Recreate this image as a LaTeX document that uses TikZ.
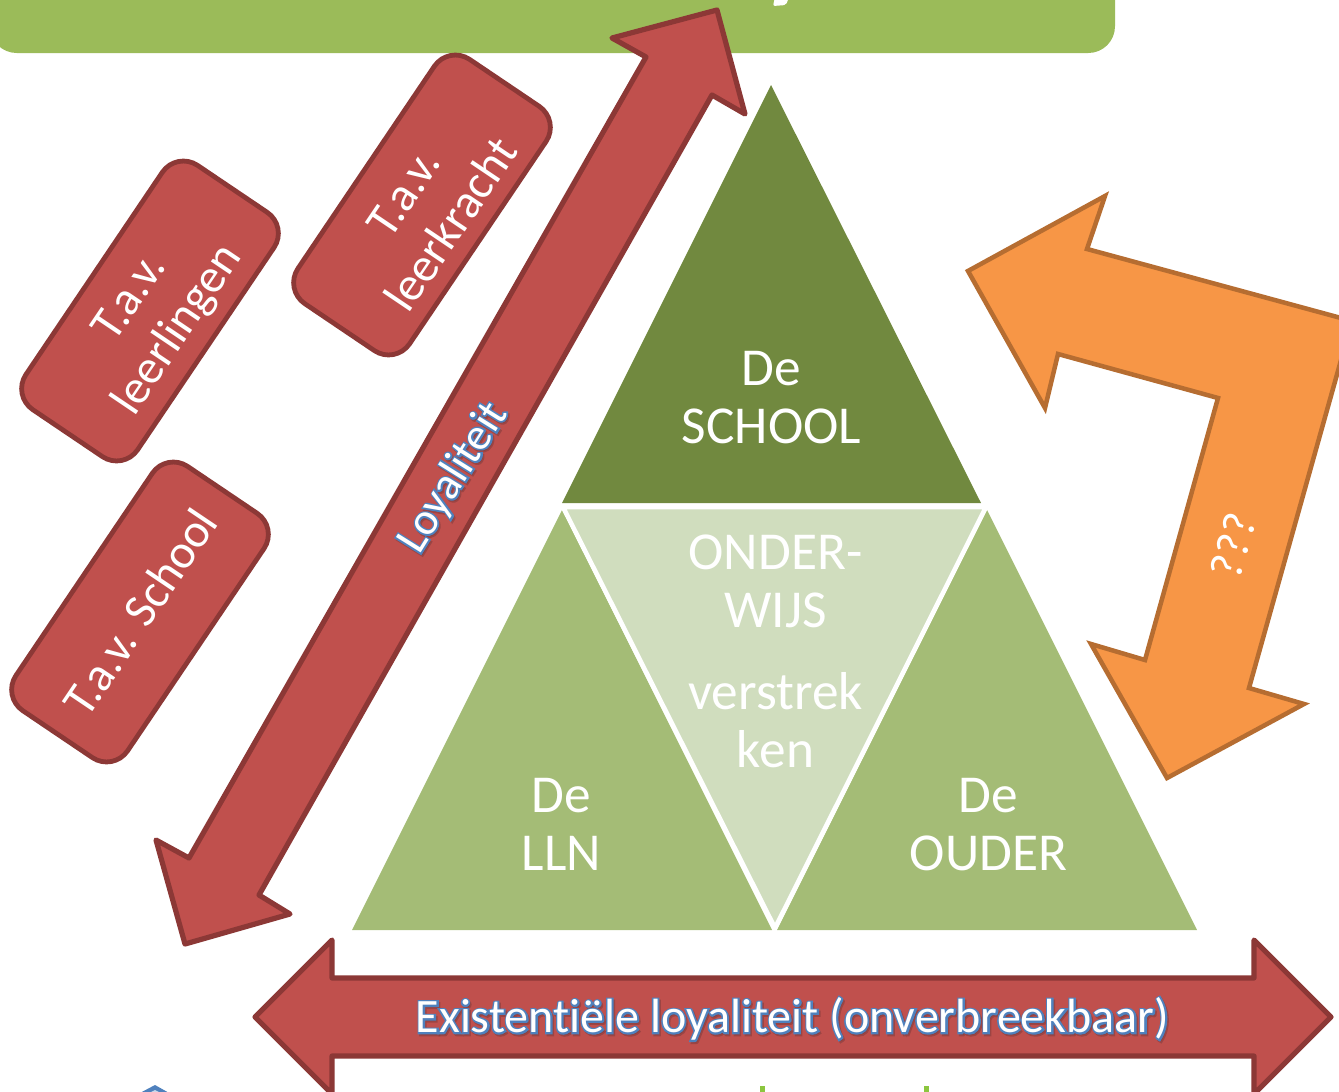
\documentclass[tikz,border=0pt]{standalone}
\usepackage{fontspec}
\setmainfont[Ligatures=NoCommon]{Carlito}
\newfontfamily\halofont[FakeBold=7,Ligatures=NoCommon]{Carlito}
\definecolor{redfill}{HTML}{C0504D}
\definecolor{redline}{HTML}{8C3836}
\definecolor{orfill}{HTML}{F79646}
\definecolor{orline}{HTML}{B66D31}
\definecolor{banner}{HTML}{9BBB59}
\definecolor{dkgreen}{HTML}{71893F}
\definecolor{mdgreen}{HTML}{A4BC76}
\definecolor{ltgreen}{HTML}{D0DDBE}
\definecolor{halo}{HTML}{4F81BD}
\definecolor{haloshadow}{HTML}{7A3A3A}
\definecolor{stub}{HTML}{8CC63F}
\newcommand{\firstline}{\rule{0pt}{33pt}}
\tikzset{
  redshape/.style={draw=redline,fill=redfill,line width=3.9pt,line join=round},
  orshape/.style={draw=orline,fill=orfill,line width=3.4pt,line join=miter},
  tavbox/.style={draw=redline,fill=redfill,line width=3.6pt,rounded corners=19pt,
    minimum width=221pt,minimum height=101pt,rotate=56,text=white,align=center,
    inner sep=0pt,font=\fontsize{36}{43}\selectfont},
  tritext/.style={text=white,align=center,inner sep=0pt,font=\fontsize{40}{43.5}\selectfont},
}
\begin{document}
\begin{tikzpicture}[x=0.75pt,y=-0.75pt]
\useasboundingbox (0,0) rectangle (1339,1092);
\clip (0,0) rectangle (1339,1092);
% banner
\fill[banner,rounded corners=20pt] (-10,-60) rectangle (1115,53);
\fill[white,rounded corners=1.5pt] (773,6) -- (786,5) -- (789,-3) -- (775,-3) -- cycle;
% triangles
\fill[dkgreen] (771,85) -- (981,503) -- (562,503) -- cycle;
\fill[mdgreen] (562,510) -- (772,930) -- (352,930) -- cycle;
\fill[mdgreen] (987,510) -- (1197,930) -- (777,930) -- cycle;
\draw[white,line width=3.4pt,fill=ltgreen,line join=miter] (563,507) -- (986,507) -- (775,928) -- cycle;
\node[tritext] (school) at (771.5,398) {De\\SCHOOL};
\node[tritext] (lln) at (561.5,824.5) {De\\LLN};
\node[tritext] (ouder) at (988.5,825) {De\\OUDER};
\node[tritext] (onderwijs) at (775.5,651.5) {ONDER-\\WIJS\\[18pt]verstrek\\ken};
% red double arrow
\draw[redshape] (717,10) -- (612,38) -- (646,57) -- (189,858) -- (156,840) -- (185,944)
  -- (290,914) -- (259,895) -- (712,95) -- (745,114) -- cycle;
\node[text=haloshadow,opacity=.5,rotate=58,inner sep=0pt,font=\halofont\fontsize{34}{36}\selectfont] (loyshadow) at (455,480) {Loyaliteit};
\node[text=halo,rotate=58,inner sep=0pt,font=\halofont\fontsize{34}{36}\selectfont] (loyhalo) at (453.5,478) {Loyaliteit};
\node[text=white,rotate=58,inner sep=0pt,font=\fontsize{34}{36}\selectfont] (loy) at (453.5,478) {Loyaliteit};
% boxes
\node[tavbox] (leerkracht) at (422,205) {\firstline T.a.v.\\leerkracht};
\node[tavbox] (leerlingen) at (150,311) {\firstline T.a.v.\\leerlingen};
\node[tavbox] (tavschool) at (140,612) {T.a.v. School};
% orange arrow
\draw[orshape] (968,271) -- (1105,196) -- (1087,249) -- (1352,321) -- (1249,688) -- (1304,704)
  -- (1167,778) -- (1091,644) -- (1145,660) -- (1218,398) -- (1058,354) -- (1045,408) -- cycle;
\node[text=white,rotate=74,inner sep=0pt,font=\fontsize{35}{37}\selectfont] (qqq) at (1233,546) {???};
% bottom arrow
\draw[redshape] (255,1017) -- (332,940) -- (332,978) -- (1254,978) -- (1254,940) -- (1331,1017)
  -- (1254,1094) -- (1254,1056) -- (332,1056) -- (332,1094) -- cycle;
\node[text=haloshadow,opacity=.5,inner sep=0pt,font=\halofont\fontsize{36}{38}\selectfont] (exshadow) at (794,1021) {Existentiële loyaliteit (onverbreekbaar)};
\node[text=halo,inner sep=0pt,font=\halofont\fontsize{36}{38}\selectfont] (exhalo) at (792.5,1019) {Existentiële loyaliteit (onverbreekbaar)};
\node[text=white,inner sep=0pt,font=\fontsize{36}{38}\selectfont] (ex) at (792.5,1019) {Existentiële loyaliteit (onverbreekbaar)};
% cropped fragments at the lower edge
\fill[halo] (138,1094) -- (155,1085) -- (171,1094) -- cycle;
\fill[white!70!halo] (147,1094) -- (155,1090) -- (163,1094) -- cycle;
\fill[stub] (760,1086) rectangle (765,1094);
\fill[stub] (924,1086) rectangle (929,1094);
\end{tikzpicture}
\end{document}
